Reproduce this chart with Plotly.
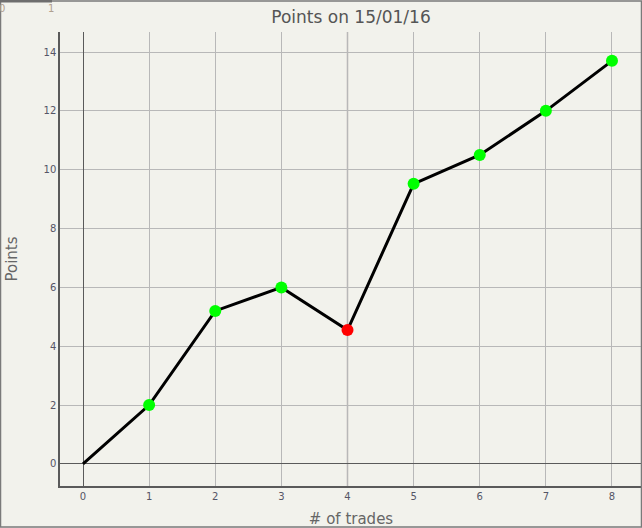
import plotly.graph_objects as go

trades = [0, 1, 2, 3, 4, 5, 6, 7, 8]
points = [0, 2.0, 5.2, 6.0, 4.55, 9.52, 10.5, 12.0, 13.7]
x_ticks = [0, 1, 2, 3, 4, 5, 6, 7, 8]
y_ticks = [0, 2, 4, 6, 8, 10, 12, 14]

colors = []
for i in range(1, len(points)):
    colors.append("#ff0000" if points[i] < points[i - 1] else "#00ff00")

W, H = 642, 528
L, R, T, B = 60, 0, 32, 42
pw, ph = W - L - R, H - T - B

def px(xp):
    return (xp - L) / pw

def py(yp):
    return (H - B - yp) / ph

fig = go.Figure()
fig.add_trace(go.Scatter(x=trades, y=points, mode="lines",
                         line=dict(color="black", width=3), hoverinfo="skip",
                         showlegend=False))
fig.add_trace(go.Scatter(x=trades[1:], y=points[1:], mode="markers",
                         marker=dict(color=colors, size=12, line=dict(width=0)),
                         showlegend=False))

fig.add_shape(type="line", xref="x", yref="paper", x0=4, x1=4, y0=0, y1=1,
              line=dict(color="rgb(150,132,138)", width=1.3), layer="below")
fig.add_shape(type="rect", xref="paper", yref="paper",
              x0=px(0.5), x1=px(641.5), y0=py(527), y1=py(1),
              line=dict(color="#7a7a7a", width=1.5))
fig.add_shape(type="line", xref="paper", yref="paper",
              x0=px(0), x1=px(52), y0=py(1.2), y1=py(1.2),
              line=dict(color="#6e6e6e", width=2.5))

fig.add_annotation(text="0", xref="paper", yref="paper", x=px(-3), y=py(9),
                   xanchor="left", yanchor="middle", showarrow=False,
                   font=dict(size=10, color="#b0a090", family="DejaVu Sans"))
fig.add_annotation(text="1", xref="paper", yref="paper", x=px(51), y=py(9),
                   xanchor="center", yanchor="middle", showarrow=False,
                   font=dict(size=10, color="#b0a090", family="DejaVu Sans"))

fig.update_layout(
    width=W, height=H,
    margin=dict(l=L, r=R, t=T, b=B, pad=0),
    paper_bgcolor="#f2f2ec", plot_bgcolor="#f2f2ec",
    font=dict(family="DejaVu Sans", color="#555"),
    title=dict(text="Points on 15/01/16", x=(L + pw / 2) / W, xanchor="center",
               y=1 - 17 / H, yanchor="middle",
               font=dict(size=17, color="#555", family="DejaVu Sans")),
    xaxis=dict(range=[-0.348, 8.454], tickvals=x_ticks, showgrid=True,
               gridcolor="#b8b8b8", gridwidth=1, zeroline=True, zerolinecolor="#5a5a5a",
               zerolinewidth=1, showline=True, linecolor="#5a5a5a", linewidth=1.5,
               ticks="", tickfont=dict(size=10, color="#556"),
               title=dict(text="# of trades", font=dict(size=15, color="#666"), standoff=13)),
    yaxis=dict(range=[-0.75, 14.68], tickvals=y_ticks, showgrid=True,
               gridcolor="#b8b8b8", gridwidth=1, zeroline=True, zerolinecolor="#5a5a5a",
               zerolinewidth=1, showline=True, linecolor="#5a5a5a", linewidth=1.5,
               ticks="", tickfont=dict(size=10, color="#556"),
               title=dict(text="Points", font=dict(size=15, color="#666"), standoff=22)),
)

fig.write_html("out.html", config={"displayModeBar": False},
               post_script="document.body.style.margin='0';")
